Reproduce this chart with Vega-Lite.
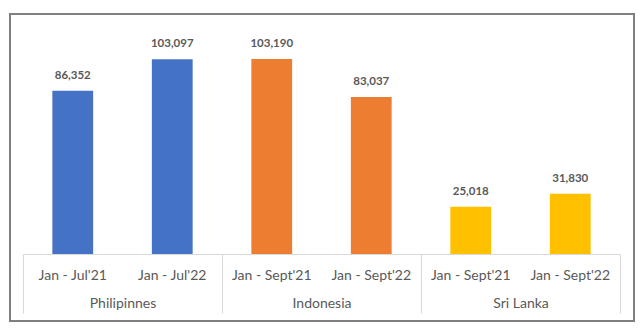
{
  "$schema": "https://vega.github.io/schema/vega-lite/v6.json",
  "width": 624,
  "height": 307,
  "autosize": {"type": "none"},
  "padding": {"left": 10, "top": 14, "right": 6, "bottom": 7},
  "background": "white",
  "config": {
    "view": {"stroke": "#7f7f7f", "strokeWidth": 2},
    "font": "Lato"
  },
  "data": {
    "values": [
      {"id": "Philipinnes|Jan - Jul'21", "country": "Philipinnes", "period": "Jan - Jul'21", "value": 86352},
      {"id": "Philipinnes|Jan - Jul'22", "country": "Philipinnes", "period": "Jan - Jul'22", "value": 103097},
      {"id": "Indonesia|Jan - Sept'21", "country": "Indonesia", "period": "Jan - Sept'21", "value": 103190},
      {"id": "Indonesia|Jan - Sept'22", "country": "Indonesia", "period": "Jan - Sept'22", "value": 83037},
      {"id": "Sri Lanka|Jan - Sept'21", "country": "Sri Lanka", "period": "Jan - Sept'21", "value": 25018},
      {"id": "Sri Lanka|Jan - Sept'22", "country": "Sri Lanka", "period": "Jan - Sept'22", "value": 31830}
    ]
  },
  "layer": [
    {
      "encoding": {
        "x": {
          "field": "id",
          "type": "nominal",
          "sort": null,
          "scale": {"range": [13, 610], "paddingInner": 0.59, "paddingOuter": 0.295},
          "axis": {
            "orient": "bottom",
            "offset": -67,
            "title": null,
            "labelAngle": 0,
            "labelExpr": "split(datum.label, '|')[1]",
            "labelFont": "Lato",
            "labelFontSize": 14,
            "labelColor": "#595959",
            "labelPadding": 14,
            "ticks": false,
            "domainColor": "#d9d9d9",
            "domainWidth": 1,
            "grid": false
          }
        },
        "y": {
          "field": "value",
          "type": "quantitative",
          "scale": {"domain": [0, 127000], "range": [240, 0], "nice": false},
          "axis": null
        }
      },
      "layer": [
        {
          "mark": {"type": "bar"},
          "encoding": {
            "color": {
              "field": "country",
              "type": "nominal",
              "scale": {
                "domain": ["Philipinnes", "Indonesia", "Sri Lanka"],
                "range": ["#4472C4", "#ED7D31", "#FFC000"]
              },
              "legend": null
            }
          }
        },
        {
          "mark": {
            "type": "text",
            "baseline": "middle",
            "dy": -15,
            "fontWeight": "bold",
            "fontSize": 11.5,
            "font": "Lato",
            "color": "#595959"
          },
          "encoding": {
            "text": {"field": "value", "type": "quantitative", "format": ","}
          }
        }
      ]
    },
    {
      "mark": {"type": "point", "opacity": 0},
      "encoding": {
        "x": {
          "field": "country",
          "type": "nominal",
          "sort": null,
          "scale": {"range": [13, 610], "paddingInner": 0, "paddingOuter": 0},
          "axis": {
            "orient": "bottom",
            "offset": -67,
            "title": null,
            "labelAngle": 0,
            "labelFont": "Lato",
            "labelFontSize": 14,
            "labelColor": "#595959",
            "labelPadding": -17,
            "domain": false,
            "ticks": true,
            "tickBand": "extent",
            "tickSize": 59,
            "tickColor": "#d9d9d9",
            "tickWidth": 1,
            "grid": false
          }
        }
      }
    }
  ],
  "resolve": {"scale": {"x": "independent"}, "axis": {"x": "independent"}}
}
